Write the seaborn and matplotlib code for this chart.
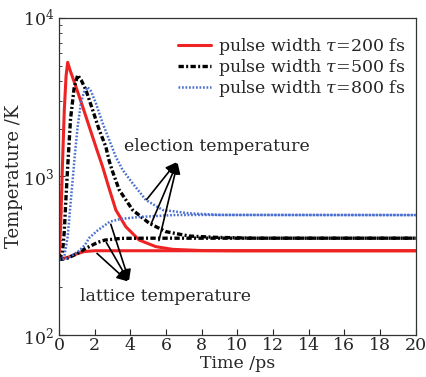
import matplotlib

matplotlib.use("Agg")
import matplotlib.pyplot as plt
import pandas as pd
import seaborn as sns

# electron temperature curves (time in ps, temperature in K)
t_e200 = [0, 0.1, 0.2, 0.3, 0.4, 0.49, 0.62, 0.95, 1.33, 1.7, 2.07, 2.45, 2.8, 3.19, 3.75, 4.5, 5.43, 6.37, 8, 10, 20]
T_e200 = [300, 500, 1200, 2600, 4300, 5250, 4700, 3690, 2760, 2060, 1540, 1150, 850, 615, 482, 397, 361, 347, 341, 340, 340]

t_e500 = [0, 0.2, 0.3, 0.4, 0.5, 0.65, 0.85, 1.05, 1.25, 1.51, 1.89, 2.26, 2.63, 2.82, 3.0, 3.38, 4.13, 5.06, 5.99, 7.3, 8.8, 11, 20]
T_e500 = [300, 330, 450, 750, 1200, 2300, 3600, 4360, 4050, 3520, 2630, 1965, 1540, 1250, 1080, 822, 615, 507, 449, 421, 413, 408, 408]

t_e800 = [0, 0.3, 0.49, 0.67, 0.77, 0.9, 1.05, 1.23, 1.4, 1.61, 1.8, 2.07, 2.45, 2.82, 3.19, 3.57, 4.13, 4.87, 5.81, 7.3, 9, 20]
T_e800 = [300, 312, 417, 711, 950, 1400, 2060, 2900, 3400, 3660, 3450, 2900, 2170, 1700, 1330, 1100, 906, 711, 615, 586, 572, 571]

# lattice temperature curves
t_l200 = [0, 0.5, 1.0, 1.42, 2.0, 3, 20]
T_l200 = [300, 309, 325, 336, 340, 340, 340]

t_l500 = [0, 0.39, 1.0, 1.46, 2.2, 2.58, 3.5, 5, 20]
T_l500 = [300, 302, 325, 350, 385, 397, 407, 408, 408]

t_l800 = [0, 0.5, 1.14, 1.46, 1.7, 2.2, 2.86, 3.5, 4.5, 6.4, 8, 20]
T_l800 = [300, 305, 340, 370, 410, 460, 519, 540, 555, 571, 572, 571]

labels = [r"pulse width $\tau$=200 fs", r"pulse width $\tau$=500 fs", r"pulse width $\tau$=800 fs"]
colors = ["#ee2424", "black", "#4a6fd0"]
styles = ["-", (0, (1.6, 0.7, 0.6, 0.7)), (0, (0.7, 0.7))]
widths = [2.2, 2.4, 1.8]

# annotation arrows: tip and tails (data coords)
elec_tip = (6.69, 1270)
elec_tails = [(4.82, 693), (5.10, 482), (5.57, 379)]
latt_tip = (3.98, 212)
latt_tails = [(2.86, 519), (2.58, 397), (2.02, 336)]

sns.set_style("ticks")
plt.rcParams["font.family"] = ["DejaVu Serif"]
plt.rcParams["mathtext.fontset"] = "dejavuserif"

fig = plt.figure(figsize=(4.27, 3.77), dpi=100)
ax = fig.add_axes([0.138, 0.1114, 0.8355, 0.841])

elec = [(t_e200, T_e200), (t_e500, T_e500), (t_e800, T_e800)]
latt = [(t_l200, T_l200), (t_l500, T_l500), (t_l800, T_l800)]
for (t, T), lab, c, ls, lw in zip(elec, labels, colors, styles, widths):
    df = pd.DataFrame({"t": t, "T": T})
    sns.lineplot(data=df, x="t", y="T", ax=ax, color=c, linestyle=ls, lw=lw,
                 label=lab, sort=False, estimator=None)
for (t, T), c, ls, lw in zip(latt, colors, styles, widths):
    df = pd.DataFrame({"t": t, "T": T})
    sns.lineplot(data=df, x="t", y="T", ax=ax, color=c, linestyle=ls, lw=lw,
                 sort=False, estimator=None)

ax.set_yscale("log")
ax.set_xlim(0, 20)
ax.set_ylim(100, 10000)
ax.set_xticks(range(0, 21, 2))
ax.set_xlabel("Time /ps", fontsize=12.5)
ax.xaxis.set_label_coords(0.5, -0.062)
ax.set_ylabel("Temperature /K", fontsize=13, labelpad=0)
ax.tick_params(axis="both", which="both", direction="in", labelsize=12.5)
ax.tick_params(axis="x", which="major", pad=1.5)
ax.tick_params(axis="both", which="major", length=4, width=0.8)
ax.tick_params(axis="y", which="minor", length=2.5, width=0.6)
for s in ax.spines.values():
    s.set_linewidth(0.9)
    s.set_color("#333333")

for tail in elec_tails:
    ax.annotate("", xy=elec_tip, xytext=tail,
                arrowprops=dict(arrowstyle="-|>", color="black", lw=1.2, mutation_scale=16))
for tail in latt_tails:
    ax.annotate("", xy=latt_tip, xytext=tail,
                arrowprops=dict(arrowstyle="-|>", color="black", lw=1.2, mutation_scale=16))

ax.text(3.65, 1535, "election temperature", fontsize=12.5, va="center")
ax.text(1.18, 174, "lattice temperature", fontsize=12.5, va="center")

handles, labs = ax.get_legend_handles_labels()
ax.legend(handles[:3], labs[:3], loc="upper right", bbox_to_anchor=(1.0, 0.975),
          frameon=False, fontsize=12.5, handlelength=1.9, handletextpad=0.4,
          labelspacing=0.0, borderaxespad=0.2)

fig.savefig("out.png", dpi=100)
